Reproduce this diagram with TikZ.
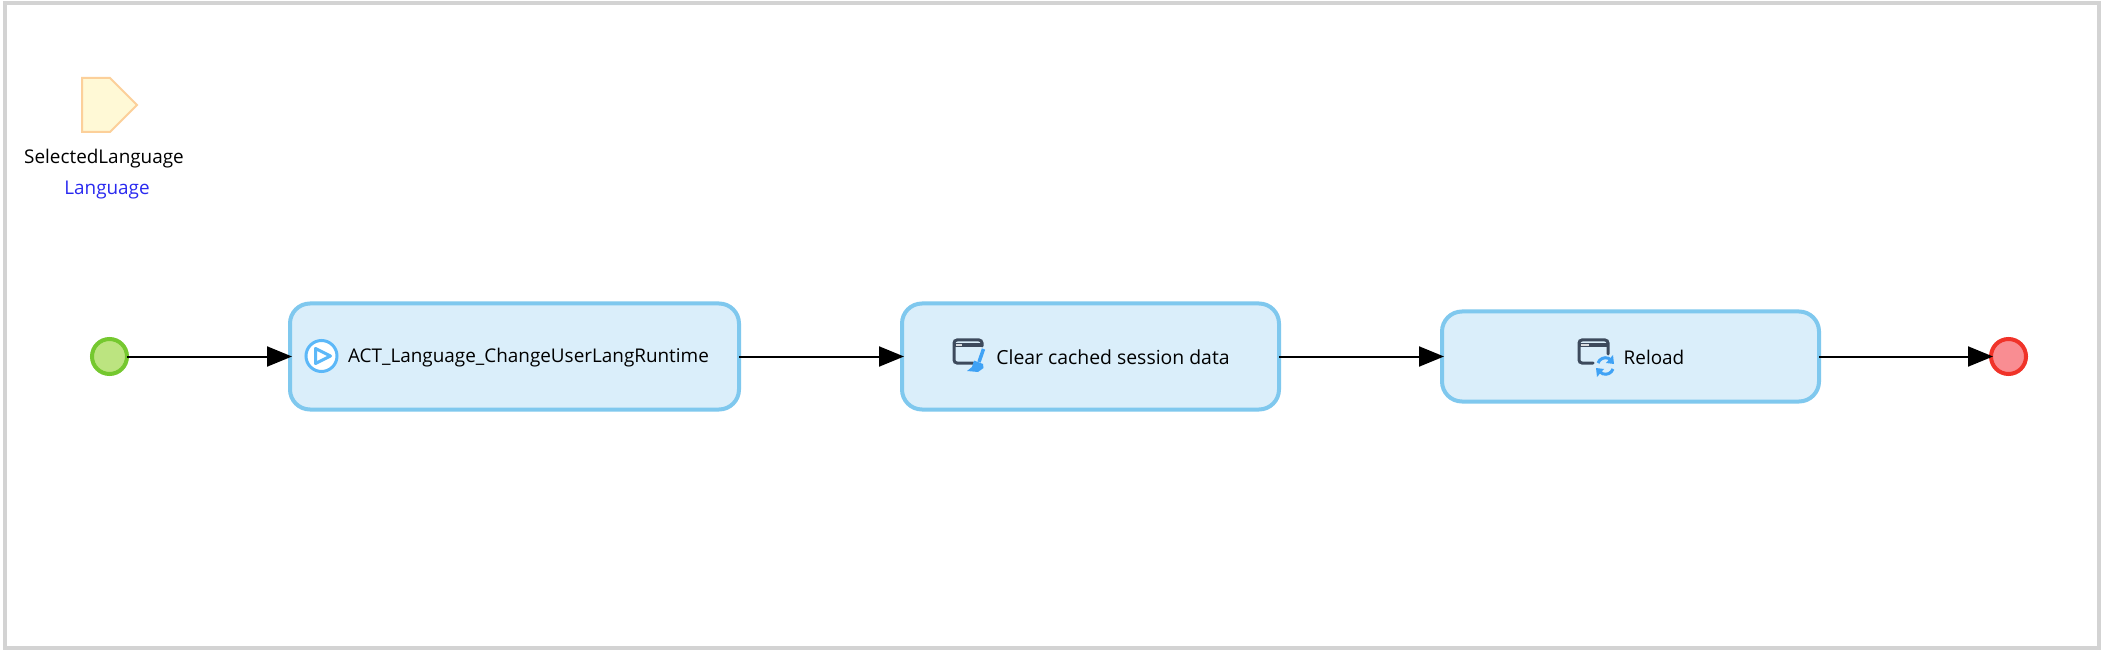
\documentclass[tikz,border=0pt]{standalone}
\usepackage{fontspec}
\setmainfont{Open Sans}
\usetikzlibrary{arrows.meta}
\definecolor{boxfill}{HTML}{DAEEFA}
\definecolor{boxline}{HTML}{7FC8EE}
\definecolor{startfill}{HTML}{BCE480}
\definecolor{startline}{HTML}{75C82F}
\definecolor{endfill}{HTML}{F98D92}
\definecolor{endline}{HTML}{F03329}
\definecolor{paramfill}{HTML}{FFF9D6}
\definecolor{paramline}{HTML}{FCD09A}
\definecolor{typeblue}{HTML}{2A2AF0}
\definecolor{frameline}{HTML}{D3D3D3}
\definecolor{icondark}{HTML}{3D4A5C}
\definecolor{iconblue}{HTML}{3FA2F5}
\definecolor{playblue}{HTML}{5CB8F8}
\tikzset{
  x=1pt,y=-1pt,
  activity/.style={draw=boxline,fill=boxfill,line width=4pt,rounded corners=20pt,minimum height=#1,outer sep=0pt,inner sep=0pt},
  startev/.style={circle,draw=startline,fill=startfill,line width=4pt,minimum size=35pt,inner sep=0pt,outer sep=0pt},
  endev/.style={circle,draw=endline,fill=endfill,line width=4pt,minimum size=35pt,inner sep=0pt,outer sep=0pt},
  flow/.style={draw=black,line width=2pt,-{Triangle[length=25pt,width=20pt]},shorten >=-2pt},
  lbl/.style={font=\fontsize{18.9pt}{22pt}\selectfont,text=black,inner sep=0pt},
  windowicon/.style={draw=icondark,line width=3pt,rounded corners=3pt,line cap=round}
}
\begin{document}
\begin{tikzpicture}
\useasboundingbox (0,0) rectangle (2102,652);
\fill[white] (0,0) rectangle (2102,652);
\draw[frameline,line width=4pt] (5,3) rectangle (2099,648);
% parameter
\draw[draw=paramline,fill=paramfill,line width=2pt] (82,78) -- (110,78) -- (137,105) -- (110,132) -- (82,132) -- cycle;
\node[lbl] (paramname) at (104,159) {SelectedLanguage};
\node[lbl,text=typeblue] (paramtype) at (107,190) {Language};
% flow nodes
\node[startev] (start) at (109.5,356.5) {};
\node[activity=106pt,minimum width=449pt] (act) at (514.5,356.5) {};
\node[activity=106pt,minimum width=377pt] (clear) at (1090.5,356.5) {};
\node[activity=90pt,minimum width=377pt] (reload) at (1630.5,356.5) {};
\node[endev] (stop) at (2008.5,356.5) {};
\node[lbl] (actlabel) at (528.5,357.5) {ACT\_Language\_ChangeUserLangRuntime};
\node[font=\fontsize{19.4pt}{22pt}\selectfont,text=black,inner sep=0pt] (clearlabel) at (1113,357.5) {Clear cached session data};
\node[lbl] (reloadlabel) at (1654,357.5) {Reload};
% connectors
\draw[flow] (start) -- (act);
\draw[flow] (act) -- (clear);
\draw[flow] (clear) -- (reload);
\draw[flow] (reload) -- (stop);
% play icon
\draw[playblue,fill=white,line width=3pt] (321.5,356) circle (15.5);
\draw[playblue,line width=3pt,line join=round] (315.5,348.5) -- (330.5,356) -- (315.5,363.5) -- cycle;
% window + broom icon
\draw[windowicon] (973,363) -- (954,363) -- (954,340) -- (982,340) -- (982,346);
\fill[icondark] (954,343) rectangle (982,347);
\fill[white!80!icondark] (956,344) rectangle (962,346);
\draw[iconblue,line width=3.5pt] (983.5,349) -- (979,362);
\fill[iconblue] (974,360.5) -- (983,364) -- (983.5,368) -- (978,372) -- (967,371) -- (972,367) -- cycle;
% window + refresh icon
\draw[windowicon] (1593,363) -- (1579,363) -- (1579,340) -- (1608,340) -- (1608,354);
\fill[icondark] (1579,343) rectangle (1608,347);
\fill[white!80!icondark] (1581,344) rectangle (1589,346);
\draw[iconblue,line width=3pt] (1598,363) arc (200:320:8);
\draw[iconblue,line width=3pt] (1613,369) arc (20:140:8);
\fill[iconblue] (1613,355) -- (1614,364) -- (1606,363) -- cycle;
\fill[iconblue] (1597,377) -- (1596,368) -- (1604,369) -- cycle;
\end{tikzpicture}
\end{document}
